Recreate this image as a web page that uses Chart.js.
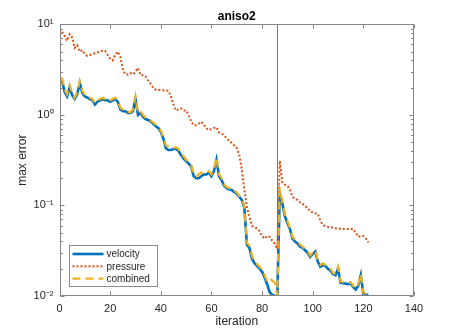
<!DOCTYPE html>
<html>
<head>
<meta charset="utf-8">
<script src="https://cdn.jsdelivr.net/npm/chart.js@4.4.1/dist/chart.umd.min.js"></script>
<style>
  html, body { margin: 0; padding: 0; background: #fff; }
  canvas { display: block; }
</style>
</head>
<body>
<canvas id="plot" width="458" height="332"></canvas>
<script>
// ============ data ============
const SERIES_NAMES = ["velocity", "pressure", "combined"];

// max error per iteration, iterations 1..122
const VELOCITY = [
  2.4, 1.8, 1.6, 2.0, 1.65, 1.5, 1.7, 2.25, 1.75, 1.6,
  1.55, 1.5, 1.45, 1.3, 1.4, 1.45, 1.5, 1.45, 1.45, 1.4,
  1.45, 1.5, 1.4, 1.15, 1.1, 1.1, 1.05, 1.05, 1.1, 1.5,
  1.0, 1.05, 0.95, 0.9, 0.88, 0.85, 0.8, 0.75, 0.72, 0.65,
  0.55, 0.43, 0.41, 0.41, 0.42, 0.42, 0.4, 0.36, 0.33, 0.31,
  0.29, 0.27, 0.21, 0.2, 0.2, 0.21, 0.22, 0.22, 0.23, 0.21,
  0.24, 0.32, 0.21, 0.19, 0.165, 0.155, 0.15, 0.148, 0.14, 0.135,
  0.125, 0.115, 0.095, 0.037, 0.034, 0.026, 0.023, 0.0215, 0.02, 0.0185,
  0.016, 0.0135, 0.011, 0.0103, 0.0101, 0.0098, 0.135, 0.105, 0.076, 0.064,
  0.055, 0.043, 0.04, 0.038, 0.035, 0.034, 0.032, 0.03, 0.027, 0.029,
  0.031, 0.024, 0.021, 0.022, 0.0215, 0.02, 0.019, 0.0175, 0.017, 0.02,
  0.014, 0.0138, 0.0137, 0.0135, 0.0138, 0.0125, 0.0118, 0.013, 0.017, 0.0105,
  0.0103, 0.0103
];

const PRESSURE = [
  8.3, 7.5, 6.6, 7.8, 7.2, 5.5, 5.9, 5.0, 5.2, 4.7,
  4.5, 4.6, 4.7, 4.8, 4.9, 5.0, 5.1, 5.1, 4.6, 4.2,
  4.0, 4.6, 5.0, 4.4, 3.2, 2.8, 2.8, 2.9, 2.8, 3.0,
  3.3, 2.75, 2.75, 2.65, 2.4, 2.2, 2.0, 1.9, 1.88, 1.88,
  1.87, 1.86, 1.85, 1.6, 1.3, 1.12, 1.15, 1.18, 1.12, 1.12,
  1.0, 0.85, 0.77, 0.77, 0.8, 0.84, 0.78, 0.71, 0.68, 0.7,
  0.72, 0.73, 0.64, 0.62, 0.6, 0.55, 0.52, 0.49, 0.46, 0.43,
  0.36, 0.25, 0.15, 0.096, 0.075, 0.06, 0.057, 0.056, 0.052, 0.046,
  0.043, 0.046, 0.045, 0.041, 0.038, 0.033, 0.31, 0.18, 0.17, 0.165,
  0.15, 0.125, 0.118, 0.115, 0.108, 0.105, 0.098, 0.094, 0.086, 0.084,
  0.082, 0.081, 0.068, 0.061, 0.059, 0.058, 0.057, 0.057, 0.056, 0.056,
  0.055, 0.055, 0.055, 0.055, 0.055, 0.055, 0.05, 0.045, 0.046, 0.046,
  0.043, 0.039
];

const COMBINED = [
  2.6, 1.9, 1.7, 2.15, 1.75, 1.55, 1.8, 2.35, 1.85, 1.65,
  1.6, 1.55, 1.5, 1.35, 1.45, 1.5, 1.55, 1.5, 1.5, 1.45,
  1.5, 1.55, 1.45, 1.2, 1.15, 1.12, 1.08, 1.07, 1.15, 1.6,
  1.05, 1.08, 1.0, 0.93, 0.9, 0.87, 0.82, 0.78, 0.74, 0.67,
  0.57, 0.46, 0.45, 0.44, 0.43, 0.44, 0.42, 0.37, 0.35, 0.32,
  0.3, 0.28, 0.22, 0.21, 0.22, 0.23, 0.23, 0.23, 0.24, 0.22,
  0.25, 0.34, 0.22, 0.2, 0.17, 0.16, 0.155, 0.152, 0.145, 0.14,
  0.128, 0.118, 0.097, 0.039, 0.036, 0.028, 0.024, 0.0225, 0.021, 0.0195,
  0.017, 0.0145, 0.0155, 0.0148, 0.014, 0.0102, 0.15, 0.11, 0.08, 0.067,
  0.057, 0.045, 0.042, 0.04, 0.037, 0.035, 0.033, 0.031, 0.028, 0.03,
  0.032, 0.025, 0.022, 0.023, 0.022, 0.021, 0.02, 0.018, 0.0175, 0.021,
  0.0145, 0.0142, 0.014, 0.014, 0.0142, 0.013, 0.0122, 0.0135, 0.0175, 0.0108,
  0.0107, 0.011
];

const RESTART_ITER = 86;               // vertical marker
const X_TICK_STEP = 20;
const Y_TICK_VALUES = [0.01, 0.1, 1, 10];
const Y_TICK_LABELS = ["10\u207B\u00B2", "10\u207B\u00B9", "10\u2070", "10\u00B9"];

// ============ helpers ============
const toPoints = vals => vals.map((v, i) => ({ x: i + 1, y: v }));

const AXIS_COLOR = "#858585";
const TEXT_COLOR = "#262626";
const FONT = "'Liberation Sans', Arial, Helvetica, sans-serif";

// box, inward ticks, restart marker and the in-plot legend (MATLAB look)
const matlabFrame = {
  id: "matlabFrame",
  beforeDatasetsDraw(chart) {
    const { ctx, chartArea: a, scales: { x } } = chart;
    const px = Math.round(x.getPixelForValue(RESTART_ITER)) + 0.5;
    ctx.save();
    ctx.strokeStyle = "#7a7a7a";
    ctx.lineWidth = 1;
    ctx.beginPath();
    ctx.moveTo(px, a.top);
    ctx.lineTo(px, a.bottom);
    ctx.stroke();
    ctx.restore();
  },
  afterDatasetsDraw(chart) {
    const { ctx, chartArea: a, scales: { x, y } } = chart;
    const L = Math.round(a.left) + 0.5, R = Math.round(a.right) - 0.5;
    const T = Math.round(a.top) + 0.5, B = Math.round(a.bottom) - 0.5;
    ctx.save();
    ctx.strokeStyle = AXIS_COLOR;
    ctx.lineWidth = 1;
    ctx.strokeRect(L, T, R - L, B - T);

    ctx.beginPath();
    for (let v = x.min; v <= x.max; v += X_TICK_STEP) {
      const px = Math.round(x.getPixelForValue(v)) + 0.5;
      ctx.moveTo(px, B); ctx.lineTo(px, B - 4);
      ctx.moveTo(px, T); ctx.lineTo(px, T + 4);
    }
    Y_TICK_VALUES.forEach((dec, k) => {
      const py = Math.round(y.getPixelForValue(dec)) + 0.5;
      ctx.moveTo(L, py); ctx.lineTo(L + 4, py);
      ctx.moveTo(R, py); ctx.lineTo(R - 4, py);
      if (k < Y_TICK_VALUES.length - 1) {
        for (let m = 2; m <= 9; m++) {
          const pm = Math.round(y.getPixelForValue(dec * m)) + 0.5;
          ctx.moveTo(L, pm); ctx.lineTo(L + 2.5, pm);
          ctx.moveTo(R, pm); ctx.lineTo(R - 2.5, pm);
        }
      }
    });
    ctx.stroke();

    // legend, lower-left inside the axes
    const bx = Math.round(a.left) + 9.5, bw = 88, bh = 41;
    const by = Math.round(a.bottom) - 50.5;
    ctx.fillStyle = "#fff";
    ctx.fillRect(bx, by, bw, bh);
    ctx.strokeStyle = "#8c8c8c";
    ctx.strokeRect(bx, by, bw, bh);
    ctx.font = "10px " + FONT;
    ctx.textBaseline = "middle";
    chart.data.datasets.forEach((ds, i) => {
      const ry = by + 8.5 + i * 12.3;
      ctx.strokeStyle = ds.borderColor;
      ctx.lineWidth = ds.borderWidth;
      ctx.setLineDash(ds.borderDash || []);
      ctx.beginPath();
      ctx.moveTo(bx + 3, ry);
      ctx.lineTo(bx + 34, ry);
      ctx.stroke();
      ctx.setLineDash([]);
      ctx.fillStyle = TEXT_COLOR;
      ctx.fillText(ds.label, bx + 37, ry + 0.5);
    });
    ctx.restore();
  }
};

// ============ chart ============
new Chart(document.getElementById("plot"), {
  type: "line",
  data: {
    datasets: [
      {
        label: SERIES_NAMES[0],
        data: toPoints(VELOCITY),
        borderColor: "#0072BD",
        borderWidth: 2.6,
        order: 3
      },
      {
        label: SERIES_NAMES[1],
        data: toPoints(PRESSURE),
        borderColor: "#D95319",
        borderWidth: 2,
        borderDash: [2, 2],
        order: 2
      },
      {
        label: SERIES_NAMES[2],
        data: toPoints(COMBINED),
        borderColor: "#EDB120",
        borderWidth: 2.2,
        borderDash: [8, 5],
        order: 1
      }
    ]
  },
  options: {
    responsive: false,
    animation: false,
    events: [],
    elements: { point: { radius: 0 }, line: { tension: 0, borderCapStyle: "butt" } },
    layout: { padding: { left: 0, right: 44, top: 0, bottom: 0 } },
    plugins: {
      legend: { display: false },
      tooltip: { enabled: false },
      title: {
        display: true,
        text: "aniso2",
        color: "#000",
        fullSize: false,
        font: { family: FONT, size: 12, weight: "bold" },
        padding: { top: 9, bottom: 1 }
      }
    },
    scales: {
      x: {
        type: "linear",
        min: 0,
        max: 140,
        grid: { display: false, drawTicks: false },
        border: { display: false },
        ticks: {
          stepSize: X_TICK_STEP,
          color: TEXT_COLOR,
          padding: 6,
          maxRotation: 0,
          font: { family: FONT, size: 11 }
        },
        title: {
          display: true,
          text: "iteration",
          color: TEXT_COLOR,
          font: { family: FONT, size: 12 },
          padding: { top: 0, bottom: 3 }
        },
        afterFit: s => { s.height = 36; }
      },
      y: {
        type: "logarithmic",
        min: 0.01,
        max: 10,
        grid: { display: false, drawTicks: false },
        border: { display: false },
        afterBuildTicks: s => { s.ticks = Y_TICK_VALUES.map(v => ({ value: v })); },
        ticks: {
          color: TEXT_COLOR,
          padding: 6,
          font: { family: FONT, size: 11 },
          callback: v => {
            const k = Y_TICK_VALUES.indexOf(v);
            return k >= 0 ? Y_TICK_LABELS[k] : "";
          }
        },
        title: {
          display: true,
          text: "max error",
          color: TEXT_COLOR,
          font: { family: FONT, size: 12 },
          padding: { top: 15, bottom: 0 }
        },
        afterFit: s => { s.width = 59.5; }
      }
    }
  },
  plugins: [matlabFrame]
});
</script>
</body>
</html>
